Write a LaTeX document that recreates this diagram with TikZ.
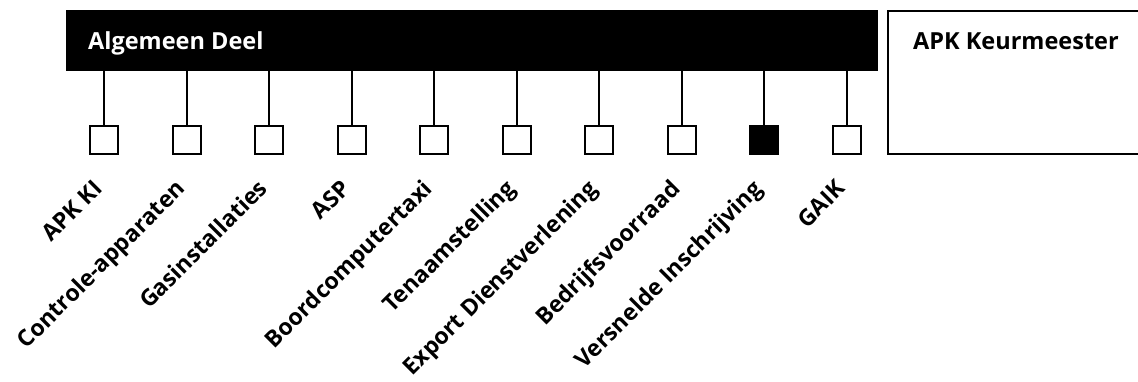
\documentclass[tikz,border=0pt]{standalone}
\usepackage{fontspec}
\setmainfont{Open Sans}
\begin{document}
\begin{tikzpicture}[x=1pt,y=-1pt,
  bar/.style={fill=black,draw=black,line width=2pt},
  panel/.style={draw=black,line width=2pt,fill=white},
  leaf/.style={draw=black,line width=2pt,fill=white,minimum size=28pt,inner sep=0pt},
  leafon/.style={leaf,fill=black},
  stem/.style={line width=2pt},
  lbl/.style={font=\bfseries\fontsize{23}{26}\selectfont,rotate=45,anchor=base east,inner sep=0pt},
  ttl/.style={font=\bfseries\fontsize{23.5}{26}\selectfont,anchor=base west,inner sep=0pt}]
\useasboundingbox (0,0) rectangle (1138,382);
\path[bar] (67,11) rectangle (877,70);
\node[ttl,text=white] (ad) at (88,50) {Algemeen Deel};
\path[panel] (888,11) rectangle (1145,154);
\node[ttl] (apk) at (913,50) {APK Keurmeester};
\foreach \i/\t/\s in {0/APK KI/leaf,1/Controle-apparaten/leaf,2/Gasinstallaties/leaf,3/ASP/leaf,4/Boordcomputertaxi/leaf,5/Tenaamstelling/leaf,6/Export Dienstverlening/leaf,7/Bedrijfsvoorraad/leaf,8/Versnelde Inschrijving/leafon,9/GAIK/leaf}{
  \pgfmathsetmacro\cx{104+82.5*\i}
  \node[\s] (b\i) at (\cx,140.5) {};
  \coordinate (t\i) at (\cx,70);
  \draw[stem] (t\i) -- (b\i.north);
  \node[lbl] (l\i) at (\cx,190) {\t};
}
\end{tikzpicture}
\end{document}
